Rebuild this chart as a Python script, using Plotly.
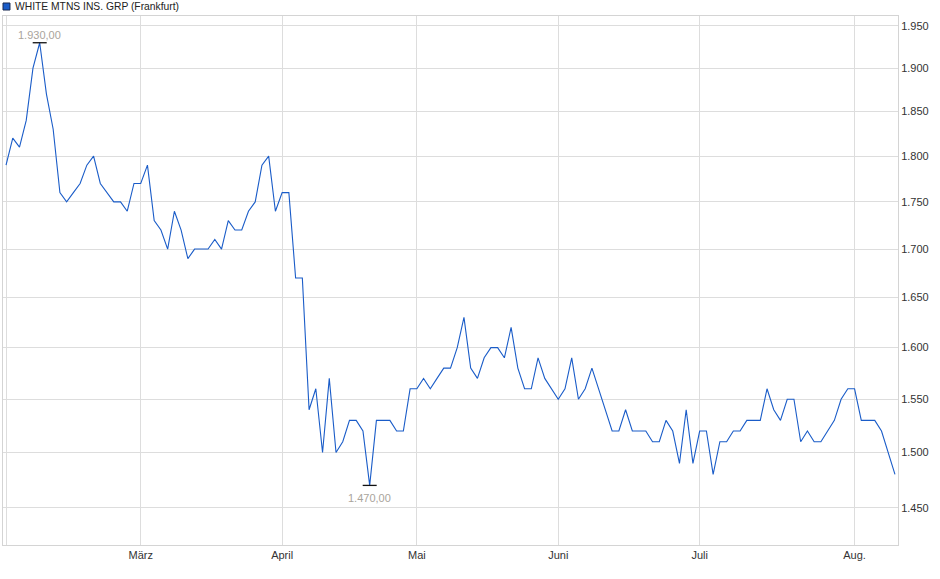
import math
import pandas as pd
import plotly.graph_objects as go

# trading days, Frankfurt, Feb 3 - Aug 11 2025
holidays = ["2025-04-18", "2025-04-21", "2025-05-01"]
dates = pd.bdate_range("2025-02-03", "2025-08-11", freq="C", holidays=holidays)
days = [d.strftime("%Y-%m-%d") for d in dates]

prices = [
    1790, 1820, 1810, 1840, 1900, 1930, 1870, 1830, 1760, 1750,
    1760, 1770, 1790, 1800, 1770, 1760, 1750, 1750, 1740, 1770,
    1770, 1790, 1730, 1720, 1700, 1740, 1720, 1690, 1700, 1700,
    1700, 1710, 1700, 1730, 1720, 1720, 1740, 1750, 1790, 1800,
    1740, 1760, 1760, 1670, 1670, 1540, 1560, 1500, 1570, 1500,
    1510, 1530, 1530, 1520, 1470, 1530, 1530, 1530, 1520, 1520,
    1560, 1560, 1570, 1560, 1570, 1580, 1580, 1600, 1630, 1580,
    1570, 1590, 1600, 1600, 1590, 1620, 1580, 1560, 1560, 1590,
    1570, 1560, 1550, 1560, 1590, 1550, 1560, 1580, 1560, 1540,
    1520, 1520, 1540, 1520, 1520, 1520, 1510, 1510, 1530, 1520,
    1490, 1540, 1490, 1520, 1520, 1480, 1510, 1510, 1520, 1520,
    1530, 1530, 1530, 1560, 1540, 1530, 1550, 1550, 1510, 1520,
    1510, 1510, 1520, 1530, 1550, 1560, 1560, 1530, 1530, 1530,
    1520, 1500, 1480,
]

month_days = ["2025-02-03", "2025-03-03", "2025-04-01", "2025-05-02",
              "2025-06-02", "2025-07-01", "2025-08-01"]
month_labels = ["", "März", "April", "Mai", "Juni", "Juli", "Aug."]

y_ticks = [1450, 1500, 1550, 1600, 1650, 1700, 1750, 1800, 1850, 1900, 1950]

def de_fmt(v):
    return f"{v:,.2f}".replace(",", "X").replace(".", ",").replace("X", ".")

i_max = prices.index(max(prices))
i_min = prices.index(min(prices))

fig = go.Figure()

fig.add_trace(go.Scatter(
    x=days, y=prices,
    mode="lines",
    line=dict(color="#1a5cc8", width=1.1),
    hoverinfo="x+y",
    showlegend=False))

# high / low markers
fig.add_trace(go.Scatter(
    x=[days[i_max], days[i_min]], y=[prices[i_max], prices[i_min]],
    mode="markers",
    marker=dict(symbol="line-ew", size=10, line=dict(color="#111111", width=1.3)),
    hoverinfo="skip",
    showlegend=False))

# log axis -> annotation y in log10 units
fig.add_annotation(x=days[i_max], y=math.log10(prices[i_max]), yref="y",
                   text=de_fmt(prices[i_max]), showarrow=False,
                   yanchor="bottom", yshift=0,
                   font=dict(size=11, color="#a9a49c"))
fig.add_annotation(x=days[i_min], y=math.log10(prices[i_min]), yref="y",
                   text=de_fmt(prices[i_min]), showarrow=False,
                   yanchor="top", yshift=-5,
                   font=dict(size=11, color="#a9a49c"))

# legend box + name
fig.add_shape(type="rect", xref="paper", yref="paper",
              x0=0.0, x1=0.0078, y0=1.0113, y1=1.0246,
              fillcolor="#1a5cc8", line=dict(color="#1a2a50", width=1))
fig.add_annotation(xref="paper", yref="paper", x=0.011, y=1.0175,
                   xanchor="left", yanchor="middle", showarrow=False,
                   text="WHITE MTNS INS. GRP (Frankfurt)",
                   font=dict(size=10.3, color="#222222"))

fig.update_xaxes(
    type="category",
    range=[-0.45, len(days) - 0.55],
    tickvals=month_days, ticktext=month_labels,
    showgrid=True, gridcolor="#dddddd", gridwidth=1,
    showline=True, linecolor="#d4d4d4", mirror=True,
    ticks="", tickfont=dict(size=11, color="#333333"),
    zeroline=False)

fig.update_yaxes(
    type="log",
    range=[3.1514, 3.2927],
    side="right",
    tickvals=y_ticks, tickformat=",d",
    showgrid=True, gridcolor="#dddddd", gridwidth=1,
    showline=True, linecolor="#d4d4d4", mirror=True,
    ticks="", tickfont=dict(size=11, color="#333333"),
    zeroline=False)

fig.update_layout(
    width=940, height=579,
    margin=dict(l=3, r=42, t=16, b=34),
    paper_bgcolor="white", plot_bgcolor="white",
    separators=",.",
    font=dict(family="Liberation Sans, Arial, sans-serif", size=11, color="#333333"),
    showlegend=False)

fig.write_html("out.html", config={"displayModeBar": False},
               post_script="document.body.style.margin='0';")
